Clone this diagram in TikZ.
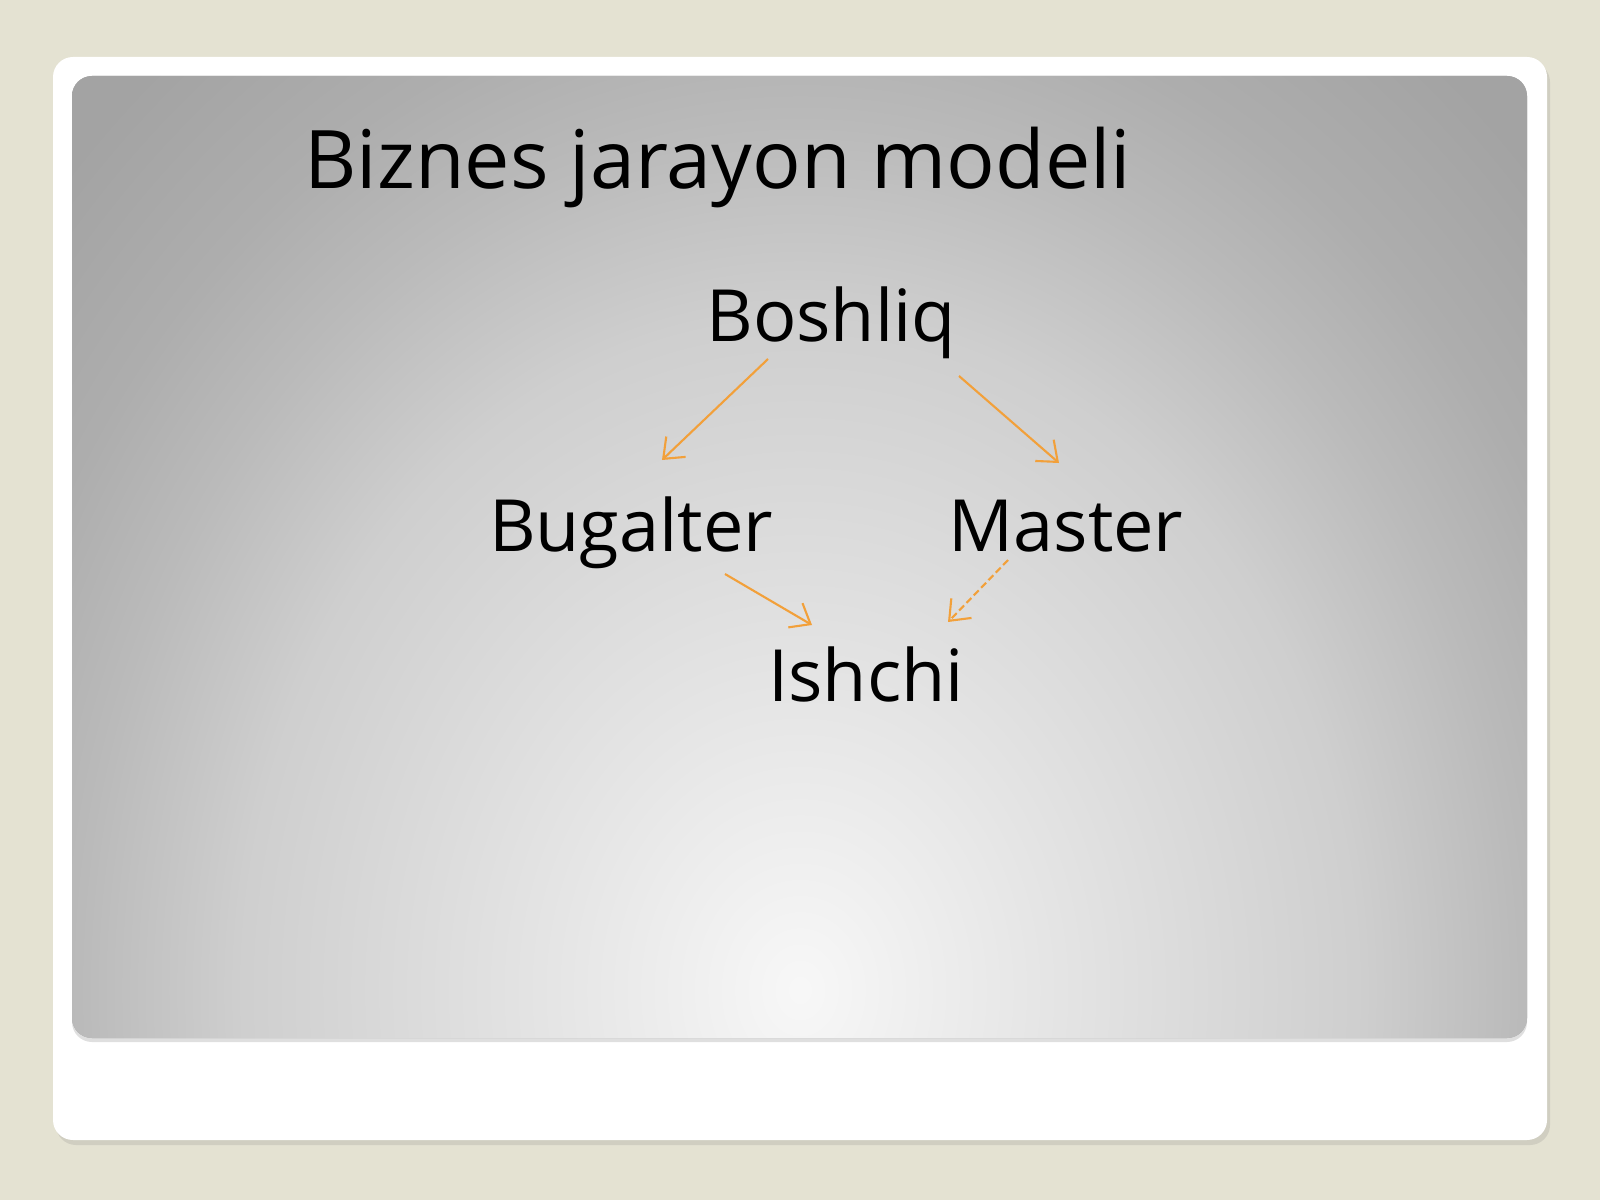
\documentclass[tikz,border=0pt]{standalone}
\usepackage{fontspec}
\setmainfont{Open Sans}
\usepackage{tikz}
\usetikzlibrary{shadows}
\usetikzlibrary{positioning}
\usetikzlibrary{arrows.meta}
\definecolor{slidebg}{RGB}{228,226,210}
\definecolor{flowline}{RGB}{242,160,58}
\pgfdeclareradialshading{panelglow}{\pgfpoint{0bp}{0bp}}{color(0bp)=(white!97!black); color(6bp)=(white!90!black); color(14bp)=(white!81!black); color(18bp)=(white!73!black); color(21bp)=(white!68!black); color(25bp)=(white!64!black); color(50bp)=(white!63!black)}
\tikzstyle{role}=[anchor=base,inner sep=0pt,font=\fontsize{20.5}{25}\selectfont]
\tikzstyle{heading}=[anchor=base,inner sep=0pt,font=\fontsize{23}{28}\selectfont]
\tikzstyle{flow}=[draw,flowline,line width=0.6pt,-{Straight Barb[length=5pt,width=8pt]}]

\begin{document}
\begin{tikzpicture}

   % slide and panels
   \fill[slidebg] (0,0) rectangle (16,12);
   \useasboundingbox (0,0) rectangle (16,12);
   \path[fill=white, rounded corners=0.2cm, drop shadow={shadow xshift=0.03cm, shadow yshift=-0.05cm, opacity=0.2}] (0.53,0.60) rectangle (15.47,11.43);
   \path[fill=black!35, rounded corners=0.2cm, drop shadow={shadow xshift=0cm, shadow yshift=-0.04cm, opacity=0.25}] (0.72,1.62) rectangle (15.27,11.24);
   \begin{scope}
     \clip[rounded corners=0.2cm] (0.72,1.62) rectangle (15.27,11.24);
     \path[shading=panelglow] (-2,-9.9) rectangle (18,14.1);
   \end{scope}

   \node[heading] (title) at (7.18,10.11) {Biznes jarayon modeli};

   \foreach \pos/\name/\label in {{(8.31,8.58)/boshliq/Boshliq}, {(6.31,6.49)/bugalter/Bugalter}, {(10.66,6.49)/master/Master}, {(8.66,4.99)/ishchi/Ishchi}}
        \node[role] (\name) at \pos {\label};

    % arrows between roles
   \path[flow] ([shift={(-0.63,-0.17)}]boshliq.base) -- ([shift={(0.31,0.91)}]bugalter.base);
   \path[flow] ([shift={(1.28,-0.34)}]boshliq.base) -- ([shift={(-0.07,0.88)}]master.base);
   \path[flow] ([shift={(0.94,-0.23)}]bugalter.base) -- ([shift={(-0.54,0.76)}]ishchi.base);
   \path[flow, dashed, dash pattern=on 2pt off 1pt] ([shift={(-0.58,-0.09)}]master.base) -- ([shift={(0.82,0.79)}]ishchi.base);

\end{tikzpicture}
\end{document}
